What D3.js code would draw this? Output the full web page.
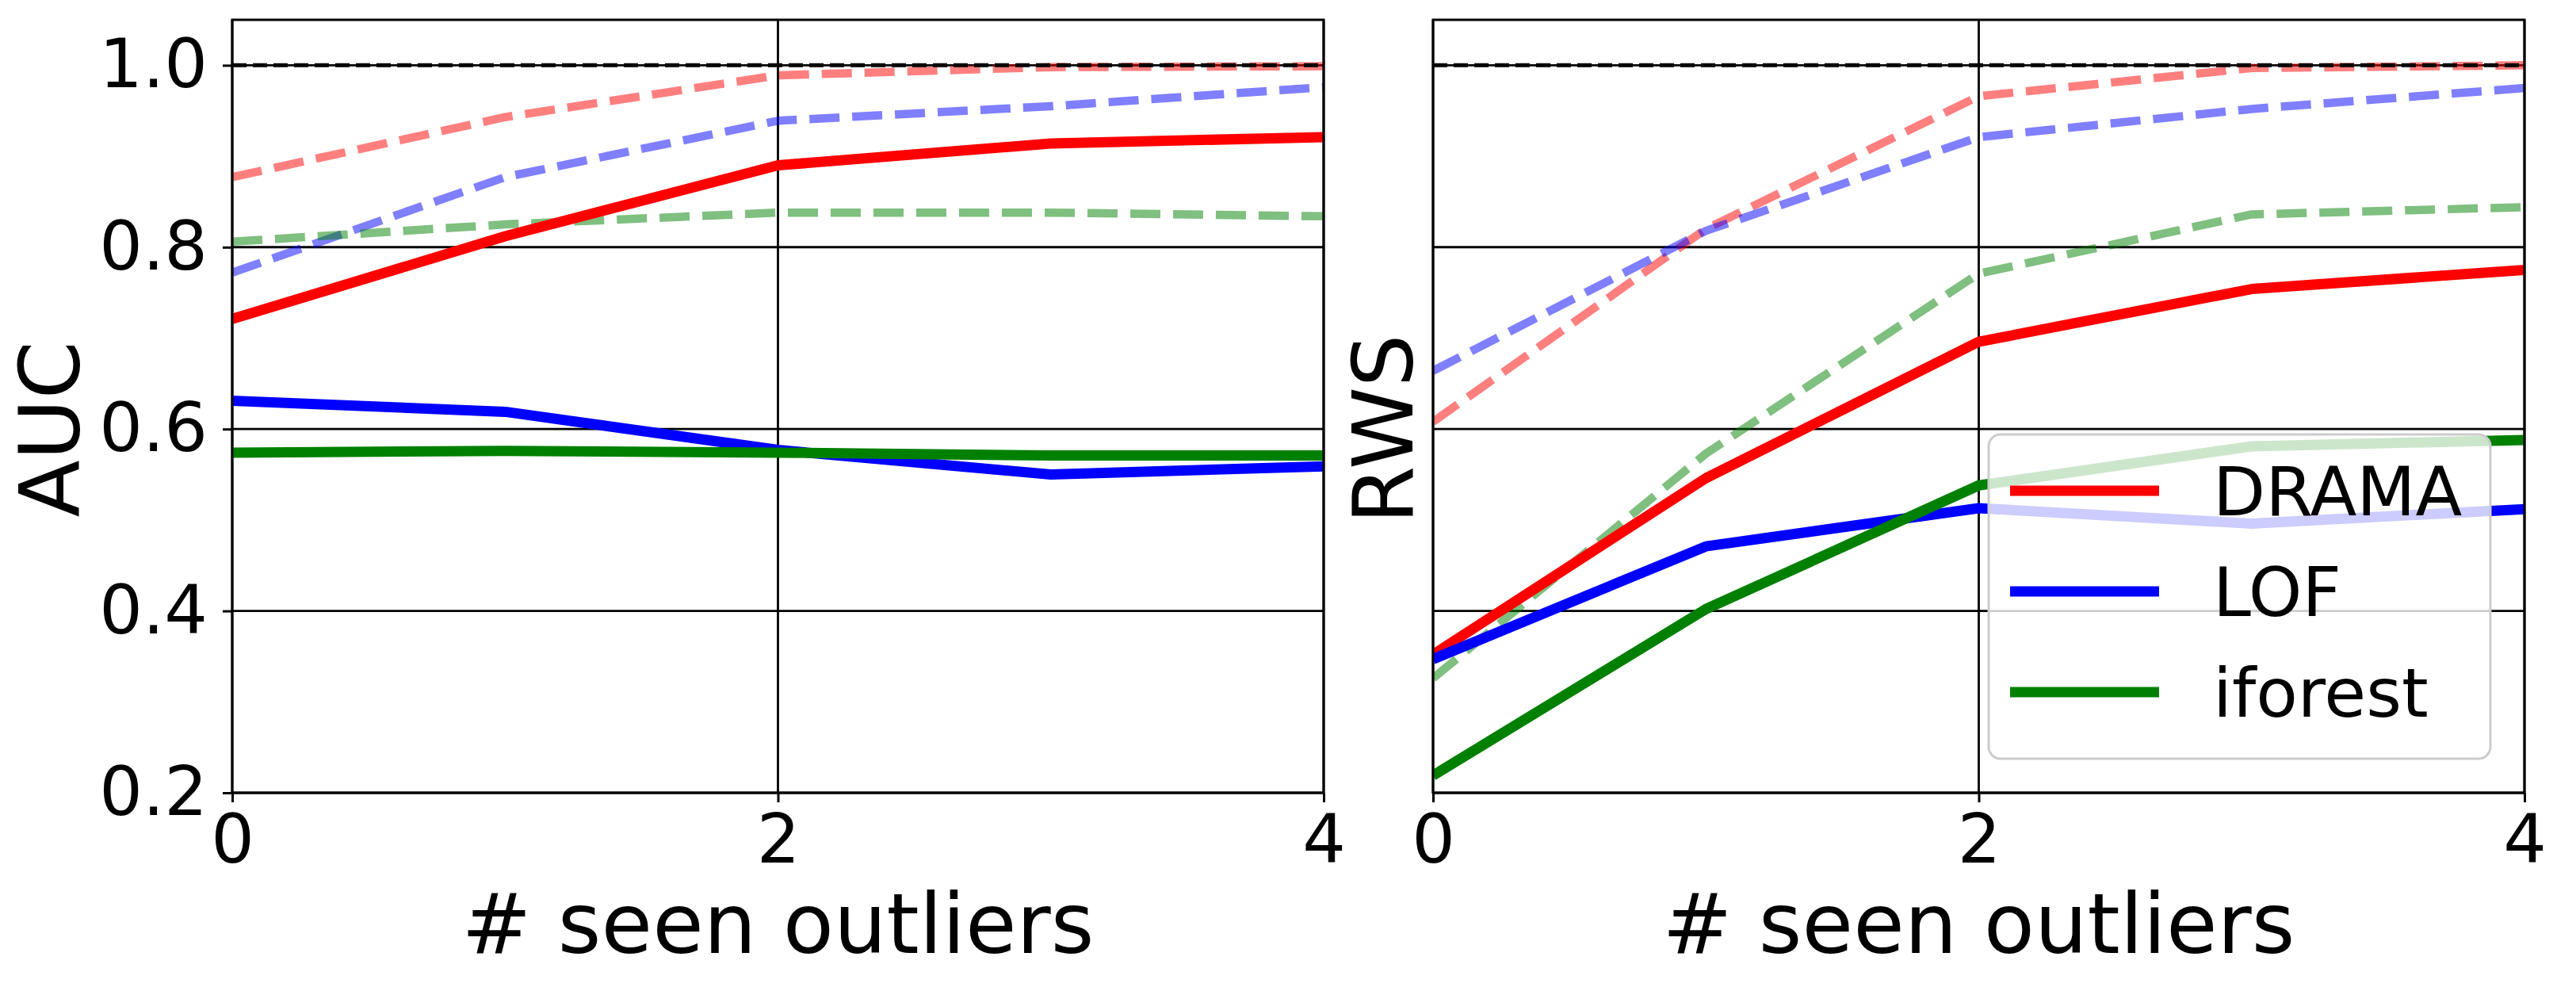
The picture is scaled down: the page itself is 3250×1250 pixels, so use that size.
<!DOCTYPE html>
<html>
<head>
<meta charset="utf-8">
<script src="https://cdn.jsdelivr.net/npm/d3@7"></script>
<style>
  html, body { margin: 0; padding: 0; background: #ffffff; }
  svg { display: block; font-family: "DejaVu Sans", sans-serif; }
</style>
</head>
<body>
<svg id="chart" width="3250" height="1250"></svg>
<script>
// ---------------- data ----------------
const seenOutliers = [0, 1, 2, 3, 4];
const methods = ["DRAMA", "LOF", "iforest"];
const methodColors = ["#ff0000", "#0000ff", "#008000"];

// AUC panel
const aucDrama        = [0.721, 0.812, 0.890, 0.914, 0.921];
const aucLof          = [0.631, 0.619, 0.577, 0.550, 0.559];
const aucIforest      = [0.574, 0.576, 0.574, 0.571, 0.571];
const aucDramaDashed  = [0.877, 0.943, 0.989, 0.998, 0.999];
const aucLofDashed    = [0.772, 0.877, 0.939, 0.955, 0.976];
const aucIforestDashed= [0.806, 0.825, 0.838, 0.838, 0.834];

// RWS panel
const rwsDrama        = [0.352, 0.546, 0.696, 0.754, 0.775];
const rwsLof          = [0.347, 0.471, 0.513, 0.496, 0.512];
const rwsIforest      = [0.219, 0.402, 0.538, 0.581, 0.588];
const rwsDramaDashed  = [0.608, 0.820, 0.966, 0.997, 1.000];
const rwsLofDashed    = [0.664, 0.818, 0.921, 0.952, 0.975];
const rwsIforestDashed= [0.326, 0.573, 0.771, 0.836, 0.844];

const yTicks = [0.2, 0.4, 0.6, 0.8, 1.0];
const xTicks = [0, 2, 4];
const referenceLine = 1.0;
const xLabel = "# seen outliers";
const panelLabels = ["AUC", "RWS"];

// ---------------- layout ----------------
const svg = d3.select("#chart");
const yDomain = [0.2, 1.05];
const y = d3.scaleLinear().domain(yDomain).range([1000, 25]);
const panels = [
  { x: d3.scaleLinear().domain([0, 4]).range([293, 1670]), label: panelLabels[0],
    solid: [aucDrama, aucLof, aucIforest], dashed: [aucDramaDashed, aucLofDashed, aucIforestDashed],
    showY: true, ylabelX: 62 },
  { x: d3.scaleLinear().domain([0, 4]).range([1808, 3185]), label: panelLabels[1],
    solid: [rwsDrama, rwsLof, rwsIforest], dashed: [rwsDramaDashed, rwsLofDashed, rwsIforestDashed],
    showY: false, ylabelX: 1744 }
];

const tickFont = 86;
const labelFont = 105;

panels.forEach((p, pi) => {
  const x = p.x;
  const [x0, x1] = x.range();
  const g = svg.append("g");
  const clipId = "clip" + pi;
  svg.append("clipPath").attr("id", clipId)
    .append("rect").attr("x", x0).attr("y", 25).attr("width", x1 - x0).attr("height", 975);

  // grid
  g.append("g").selectAll("line").data(yTicks).join("line")
    .attr("x1", x0).attr("x2", x1).attr("y1", d => y(d)).attr("y2", d => y(d))
    .attr("stroke", "#000").attr("stroke-width", 2.8);
  g.append("g").selectAll("line").data(xTicks).join("line")
    .attr("x1", d => x(d)).attr("x2", d => x(d)).attr("y1", 25).attr("y2", 1000)
    .attr("stroke", "#000").attr("stroke-width", 2.8);

  const plot = g.append("g").attr("clip-path", `url(#${clipId})`);
  const line = d3.line().x((d, i) => x(seenOutliers[i])).y(d => y(d));

  // dashed (alpha 0.5)
  p.dashed.forEach((vals, i) => {
    plot.append("path").datum(vals).attr("d", line)
      .attr("fill", "none").attr("stroke", methodColors[i]).attr("stroke-opacity", 0.5)
      .attr("stroke-width", 10.5).attr("stroke-dasharray", "38,16")
      .attr("stroke-linejoin", "round");
  });
  // reference dashed black line
  plot.append("line").attr("x1", x0).attr("x2", x1)
    .attr("y1", y(referenceLine)).attr("y2", y(referenceLine))
    .attr("stroke", "#000").attr("stroke-width", 5).attr("stroke-dasharray", "18,8");
  // solid
  p.solid.forEach((vals, i) => {
    plot.append("path").datum(vals).attr("d", line)
      .attr("fill", "none").attr("stroke", methodColors[i])
      .attr("stroke-width", 13).attr("stroke-linejoin", "round");
  });

  // frame
  g.append("rect").attr("x", x0).attr("y", 25).attr("width", x1 - x0).attr("height", 975)
    .attr("fill", "none").attr("stroke", "#000").attr("stroke-width", 3);

  // x axis
  const xa = g.append("g").attr("transform", "translate(0,1000)")
    .call(d3.axisBottom(x).tickValues(xTicks).tickFormat(d3.format("d")).tickSize(12).tickPadding(15));
  xa.select(".domain").remove();
  xa.selectAll("line").attr("stroke", "#000").attr("stroke-width", 3);
  xa.selectAll("text").attr("font-size", tickFont).attr("fill", "#000").attr("font-family", "DejaVu Sans");

  if (p.showY) {
    const ya = g.append("g").attr("transform", `translate(${x0},0)`)
      .call(d3.axisLeft(y).tickValues(yTicks).tickFormat(d3.format(".1f")).tickSize(12).tickPadding(19));
    ya.select(".domain").remove();
    ya.selectAll("line").attr("stroke", "#000").attr("stroke-width", 3);
    ya.selectAll("text").attr("font-size", tickFont).attr("fill", "#000").attr("font-family", "DejaVu Sans");
  }

  // labels
  g.append("text").attr("x", (x0 + x1) / 2).attr("y", 1202)
    .attr("text-anchor", "middle").attr("font-size", labelFont).attr("fill", "#000").text(xLabel);
  g.append("text").attr("transform", `translate(${p.ylabelX},${y(0.6)}) rotate(-90)`)
    .attr("text-anchor", "middle").attr("dy", "0.36em")
    .attr("font-size", labelFont).attr("fill", "#000").text(p.label);
});

// ---------------- legend ----------------
const lg = svg.append("g");
lg.append("rect").attr("x", 2509).attr("y", 548).attr("width", 633).attr("height", 409)
  .attr("rx", 15).attr("ry", 15)
  .attr("fill", "#ffffff").attr("fill-opacity", 0.8)
  .attr("stroke", "#cccccc").attr("stroke-width", 3);
const legendRows = d3.scaleOrdinal().domain(methods).range([619, 746, 873]);
methods.forEach((m, i) => {
  const yy = legendRows(m);
  lg.append("line").attr("x1", 2536).attr("x2", 2724).attr("y1", yy).attr("y2", yy)
    .attr("stroke", methodColors[i]).attr("stroke-width", 13);
  lg.append("text").attr("x", 2792).attr("y", yy).attr("dy", "0.36em")
    .attr("font-size", tickFont).attr("fill", "#000").text(m);
});
</script>
</body>
</html>
